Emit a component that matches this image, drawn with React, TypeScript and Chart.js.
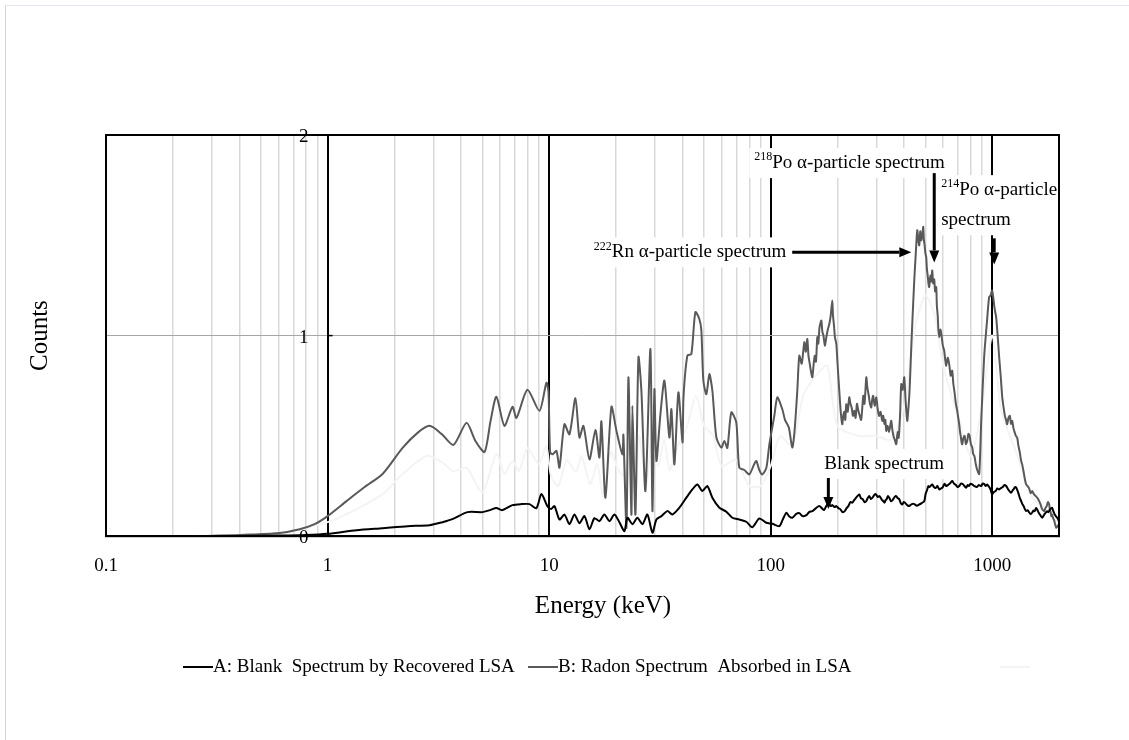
import React, { useEffect, useRef } from 'react';
import { Chart, registerables } from 'chart.js';

Chart.register(...registerables);

const SERIF = "'Liberation Serif', 'Times New Roman', Times, serif";

// ---- data: [energy keV, counts] ----
const blankSeries: number[][] = [
  [0.25, 0], [0.4, 0.001], [0.6, 0.003], [0.8, 0.006], [1.0, 0.012], [1.35, 0.03], [1.77, 0.04], [2.3, 0.05],
  [2.885, 0.055], [3.3, 0.07], [3.66, 0.085], [4.28, 0.12], [5.0, 0.12], [5.4, 0.13], [5.78, 0.14], [6.15, 0.13],
  [6.83, 0.155], [7.5, 0.16], [8.15, 0.16], [8.76, 0.14], [9.23, 0.21], [9.82, 0.15], [10.2, 0.135], [10.57, 0.15],
  [11.13, 0.083], [11.72, 0.108], [12.35, 0.06], [13.0, 0.108], [13.7, 0.065], [14.43, 0.1], [15.2, 0.035],
  [16.01, 0.09], [16.86, 0.075], [17.75, 0.108], [18.71, 0.075], [19.7, 0.108], [20.75, 0.07], [21.86, 0.025],
  [22.55, 0.092], [23.75, 0.06], [25.02, 0.092], [26.36, 0.06], [27.76, 0.108], [29.25, 0.017], [30.48, 0.083],
  [32.1, 0.1], [34.18, 0.125], [35.98, 0.108], [38.71, 0.142], [41.62, 0.192], [44.3, 0.233], [46.66, 0.258],
  [49.13, 0.225], [51.76, 0.25], [54.53, 0.192], [58.65, 0.142], [63.05, 0.122], [67.1, 0.092], [72.1, 0.083],
  [77.6, 0.072], [82.6, 0.045], [88.8, 0.088], [95.5, 0.067], [101.7, 0.062], [109.3, 0.05], [113, 0.08],
  [117.6, 0.117], [121, 0.1], [125.1, 0.092], [130, 0.11], [134.6, 0.115], [139, 0.1], [144.8, 0.105],
  [149, 0.12], [154.1, 0.125], [160, 0.14], [165.6, 0.15], [170, 0.14], [174, 0.13], [178, 0.15], [182.7, 0.167],
  [186, 0.15], [190, 0.155], [194, 0.145], [197.7, 0.15], [202, 0.14], [206, 0.135], [211, 0.12], [215.9, 0.125],
  [220, 0.14], [224, 0.15], [229, 0.17], [233.4, 0.167], [238, 0.18], [242, 0.19], [246, 0.2], [251.1, 0.208],
  [255, 0.19], [260, 0.185], [265, 0.17], [270, 0.175], [274, 0.19], [279, 0.2], [283, 0.185], [288, 0.192],
  [293, 0.205], [298, 0.21], [304, 0.195], [309.7, 0.2], [314, 0.19], [318, 0.18], [322, 0.175], [326.2, 0.167],
  [330, 0.18], [334, 0.185], [338, 0.2], [342.8, 0.192], [349, 0.175], [355, 0.18], [362, 0.195], [368.5, 0.2],
  [374, 0.19], [380, 0.185], [386, 0.165], [392.4, 0.158], [398, 0.17], [405, 0.165], [413, 0.155], [421.7, 0.15],
  [433, 0.16], [445, 0.16], [456, 0.152], [468.1, 0.158], [480, 0.165], [493.1, 0.175], [500, 0.21],
  [508.7, 0.233], [514, 0.25], [520, 0.245], [528, 0.252], [535.8, 0.258], [545, 0.245], [555, 0.24],
  [565, 0.25], [576, 0.233], [587, 0.238], [598, 0.245], [609, 0.262], [619.4, 0.25], [630, 0.255], [640, 0.26],
  [650, 0.268], [659.2, 0.275], [672, 0.262], [685, 0.255], [697, 0.245], [709.1, 0.25], [722, 0.262],
  [735, 0.26], [749, 0.25], [762.7, 0.242], [774, 0.255], [785, 0.25], [798, 0.262], [811.8, 0.258],
  [830, 0.25], [850, 0.245], [870, 0.255], [891.3, 0.25], [905, 0.262], [920, 0.26], [933, 0.25], [947.8, 0.258],
  [961, 0.25], [975, 0.24], [987, 0.225], [998, 0.208], [1016, 0.22], [1035, 0.225], [1054, 0.238],
  [1074, 0.233], [1095, 0.24], [1115, 0.245], [1135, 0.255], [1155, 0.25], [1170, 0.24], [1185, 0.23],
  [1200, 0.222], [1217, 0.217], [1234, 0.228], [1250, 0.235], [1266, 0.245], [1282, 0.242], [1298, 0.228],
  [1315, 0.21], [1332, 0.19], [1350, 0.175], [1367, 0.16], [1385, 0.15], [1403, 0.135], [1422, 0.125],
  [1443, 0.13], [1465, 0.12], [1490, 0.11], [1513, 0.117], [1533, 0.128], [1555, 0.125], [1575, 0.14],
  [1594, 0.133], [1614, 0.12], [1635, 0.11], [1657, 0.1], [1680, 0.092], [1700, 0.1], [1720, 0.11],
  [1744, 0.118], [1768, 0.125], [1790, 0.12], [1815, 0.13], [1838, 0.138], [1862, 0.142], [1885, 0.125],
  [1910, 0.11], [1935, 0.1], [1962, 0.092], [2000, 0.075],
];

const radonSeries: number[][] = [
  [0.249, 0], [0.326, 0.003], [0.445, 0.008], [0.607, 0.016], [0.748, 0.035], [0.874, 0.06], [1.0, 0.1],
  [1.218, 0.175], [1.469, 0.245], [1.771, 0.31], [2.18, 0.44], [2.547, 0.515], [2.885, 0.55], [3.268, 0.51],
  [3.7, 0.455], [4.236, 0.565], [4.65, 0.475], [5.11, 0.42], [5.44, 0.575], [5.78, 0.695], [6.28, 0.55],
  [6.83, 0.645], [7.12, 0.59], [7.98, 0.73], [9.04, 0.625], [9.72, 0.765], [9.93, 0.72], [10.1, 0.42],
  [10.35, 0.408], [10.79, 0.425], [11.13, 0.342], [11.72, 0.558], [12.35, 0.508], [13.14, 0.688], [13.7, 0.492],
  [14.28, 0.55], [15.2, 0.383], [16.18, 0.53], [16.86, 0.392], [17.21, 0.572], [17.95, 0.192], [19.1, 0.645],
  [20.13, 0.525], [21.41, 0.408], [21.63, 0.505], [22.33, 0.042], [22.79, 0.792], [23.51, 0.108], [23.75, 0.65],
  [24.51, 0.108], [25.29, 0.892], [26.08, 0.725], [27.19, 0.225], [28.64, 0.933], [29.25, 0.125], [29.86, 0.733],
  [30.48, 0.375], [31.78, 0.608], [33.13, 0.775], [34.88, 0.492], [35.62, 0.633], [36.75, 0.358], [38.31, 0.717],
  [39.97, 0.467], [40.39, 0.692], [42.05, 0.9], [43.83, 0.908], [45.7, 1.117], [47.62, 1.083], [48.64, 1.025],
  [49.66, 0.775], [51.24, 0.708], [52.86, 0.808], [54.53, 0.725], [56.85, 0.492], [59.88, 0.442], [61.78, 0.475],
  [63.7, 0.44], [66.4, 0.617], [69.9, 0.567], [72.1, 0.342], [76.0, 0.33], [80.0, 0.308], [84.3, 0.36],
  [86.1, 0.375], [88.8, 0.33], [91.6, 0.308], [95.5, 0.34], [98.6, 0.458], [103.8, 0.6], [107.1, 0.692],
  [112.8, 0.633], [116, 0.58], [120.7, 0.542], [125.1, 0.442], [128, 0.52], [131.8, 0.725], [134.6, 0.9],
  [138, 0.86], [141.8, 0.967], [144, 0.92], [146.3, 0.983], [148, 0.9], [150, 0.86], [152, 0.82], [154.1, 0.792],
  [156, 0.85], [158, 0.9], [160, 0.87], [162.3, 0.992], [164, 0.96], [166, 1.04], [169.2, 1.075], [171, 1.02],
  [173, 1.0], [175.5, 0.95], [178.2, 0.992], [181, 1.03], [183.8, 1.058], [186.5, 1.1], [189.6, 1.175],
  [191, 1.1], [193, 1.05], [195, 0.99], [197.7, 0.958], [200.5, 0.85], [203.9, 0.725], [207, 0.62],
  [210.3, 0.558], [212.5, 0.6], [215, 0.62], [217, 0.58], [219.3, 0.658], [222.5, 0.62], [226.2, 0.692],
  [229, 0.66], [232, 0.64], [235, 0.6], [238.4, 0.625], [241.5, 0.59], [245, 0.66], [248, 0.63], [251.1, 0.608],
  [256, 0.58], [261.7, 0.7], [265, 0.66], [270, 0.792], [273, 0.74], [277, 0.7], [280.5, 0.66], [284.3, 0.642],
  [287, 0.68], [290, 0.7], [294.5, 0.65], [299.5, 0.692], [303.5, 0.64], [308, 0.6], [313, 0.62], [318.7, 0.575],
  [322, 0.6], [326, 0.56], [329, 0.58], [332.2, 0.525], [337, 0.55], [342, 0.52], [346, 0.55], [349.9, 0.575],
  [354, 0.53], [358, 0.5], [363, 0.48], [368.5, 0.458], [372, 0.5], [375, 0.52], [378, 0.49], [380.3, 0.525],
  [384, 0.62], [388.2, 0.758], [394, 0.73], [400.5, 0.792], [406, 0.68], [413.2, 0.575], [417, 0.62], [422, 0.7],
  [426, 0.8], [430.8, 0.942], [437, 1.1], [444.4, 1.275], [451, 1.4], [458.4, 1.525], [463, 1.48], [468, 1.45],
  [473, 1.52], [477.9, 1.475], [483, 1.5], [487.9, 1.542], [491, 1.48], [495, 1.45], [499, 1.41], [503.1, 1.392],
  [507, 1.33], [511, 1.3], [515, 1.26], [519, 1.242], [523, 1.28], [527, 1.3], [531, 1.27], [535.8, 1.325],
  [541, 1.26], [547, 1.28], [552, 1.22], [558.4, 1.242], [562, 1.15], [567, 1.1], [571, 1.03], [576, 0.992],
  [583, 1.03], [590, 1.0], [598, 0.95], [606.7, 0.925], [613, 0.88], [619.4, 0.85], [629, 0.89], [639, 0.858],
  [649, 0.8], [659.2, 0.825], [667, 0.76], [675, 0.72], [685, 0.66], [694.6, 0.625], [702, 0.59], [709.1, 0.558],
  [715, 0.52], [720, 0.5], [726, 0.47], [731.5, 0.458], [740, 0.49], [750, 0.5], [760, 0.46], [770.4, 0.475],
  [780, 0.51], [790, 0.5], [800, 0.46], [811.8, 0.442], [820, 0.41], [830, 0.4], [842, 0.36], [855, 0.33],
  [873, 0.31], [891.3, 0.575], [918.7, 0.892], [947.8, 1.08], [967.5, 1.192], [982, 1.2], [998, 1.225],
  [1010, 1.19], [1020, 1.15], [1030, 1.12], [1041, 1.092], [1057, 1.0], [1074, 0.892], [1091, 0.8],
  [1109, 0.692], [1125, 0.64], [1140, 0.6], [1153, 0.58], [1167, 0.558], [1183, 0.59], [1200, 0.6],
  [1215, 0.56], [1230, 0.575], [1245, 0.54], [1260, 0.52], [1278, 0.5], [1295, 0.492], [1312, 0.45],
  [1330, 0.42], [1347, 0.38], [1364, 0.358], [1380, 0.33], [1395, 0.3], [1408, 0.275], [1422, 0.258],
  [1443, 0.25], [1465, 0.24], [1490, 0.215], [1513, 0.225], [1540, 0.21], [1570, 0.2], [1600, 0.19],
  [1628, 0.175], [1650, 0.16], [1670, 0.14], [1692, 0.13], [1714, 0.125], [1737, 0.14], [1760, 0.15],
  [1783, 0.17], [1806, 0.158], [1820, 0.13], [1835, 0.12], [1848, 0.1], [1862, 0.108], [1881, 0.09],
  [1900, 0.08], [1920, 0.06], [1942, 0.042], [1970, 0.05], [2000, 0.06],
];

const shadowSeries: number[][] = [
  [0.3, 0], [0.6, 0.01], [1.0, 0.07], [1.22, 0.11], [1.77, 0.21], [2.18, 0.31], [2.8, 0.4], [3.27, 0.37],
  [3.7, 0.325], [4.24, 0.34], [5.0, 0.22], [5.78, 0.41], [6.28, 0.31], [6.83, 0.375], [7.3, 0.325], [8.0, 0.44],
  [9.0, 0.36], [9.7, 0.45], [10.2, 0.3], [11.0, 0.25], [12.0, 0.38], [13.2, 0.32], [14.0, 0.4], [15.3, 0.26],
  [16.5, 0.36], [17.5, 0.2], [19.0, 0.42], [20.5, 0.33], [22.0, 0.3], [23.0, 0.45], [24.5, 0.2], [25.5, 0.5],
  [27.5, 0.25], [29.0, 0.5], [31.0, 0.35], [33.0, 0.48], [35.0, 0.33], [38.0, 0.45], [42.0, 0.55], [46.0, 0.7],
  [50.0, 0.55], [55.0, 0.5], [60.0, 0.35], [70.0, 0.38], [80.0, 0.25], [90.0, 0.25], [100, 0.35], [110, 0.5],
  [125, 0.45], [140, 0.7], [160, 0.8], [180, 0.85], [200, 0.55], [250, 0.5], [300, 0.5], [350, 0.48],
  [400, 0.65], [450, 1.05], [500, 1.2], [550, 1.1], [600, 0.85], [700, 0.6], [800, 0.4], [900, 0.65],
  [1000, 1.0], [1100, 0.62], [1300, 0.4], [1500, 0.2], [1800, 0.12], [2000, 0.05],
];

const seriesLabels = ['A: Blank  Spectrum by Recovered LSA', 'B: Radon Spectrum  Absorbed in LSA', ''];
const seriesColors = ['#000000', '#595959', '#f4f4f4'];

const X_MIN = 0.1;
const X_MAX = 2000;
const majorTicks = [0.1, 1, 10, 100, 1000];
const minorSteps = [2, 3, 4, 5, 6, 7, 8, 9];
const yTicks = [0, 1, 2];
const yAxisAt = 1;

// annotations, in data coordinates (energy keV, counts)
const notes = [
  { lines: [['222', 'Rn α-particle spectrum']], energy: 117.6, counts: [1.415], align: 'right' },
  { lines: [['218', 'Po α-particle spectrum']], energy: 84.3, counts: [1.86], align: 'left' },
  { lines: [['214', 'Po α-particle'], ['', 'spectrum']], energy: 588, counts: [1.725, 1.575], align: 'left' },
  { lines: [['', 'Blank spectrum']], energy: 174.5, counts: [0.36], align: 'left' },
];
const arrows = [
  { from: [125, 1.415], to: [431, 1.415] },
  { from: [547, 1.81], to: [547, 1.365] },
  { from: [1020, 1.485], to: [1020, 1.355] },
  { from: [182, 0.29], to: [182, 0.135] },
];

const isMajor = (v: number) => {
  const l = Math.log10(v);
  return Math.abs(l - Math.round(l)) < 1e-6;
};

const xGridValues: number[] = [];
majorTicks.forEach((d) => {
  xGridValues.push(d);
  minorSteps.forEach((m) => {
    const v = parseFloat((d * m).toPrecision(6));
    if (v <= X_MAX) xGridValues.push(v);
  });
});

const toPoints = (s: number[][]) => s.map(([x, y]) => ({ x, y }));

const overlayPlugin = {
  id: 'overlay',
  afterDraw(chart: any) {
    const { ctx, chartArea: a, scales } = chart;
    const xs = scales.x;
    const ys = scales.y;
    ctx.save();
    const mainFont = `19px ${SERIF}`;
    const supFont = `12px ${SERIF}`;

    // annotation labels with white boxes
    notes.forEach((n) => {
      const px = xs.getPixelForValue(n.energy);
      const rows = n.lines.map(([sup, txt], i) => {
        ctx.font = supFont;
        const sw = sup ? ctx.measureText(sup).width : 0;
        ctx.font = mainFont;
        const tw = ctx.measureText(txt).width;
        const w = sw + tw;
        const left = n.align === 'right' ? px - w : px;
        return { sup, txt, sw, w, left, y: ys.getPixelForValue(n.counts[i]) };
      });
      const l = Math.min(...rows.map((r) => r.left)) - 5;
      const r = Math.max(...rows.map((r) => r.left + r.w)) + 5;
      const t = rows[0].y - 15;
      const b = rows[rows.length - 1].y + 15;
      ctx.fillStyle = '#ffffff';
      ctx.fillRect(l, t, r - l, b - t);
      ctx.fillStyle = '#000000';
      ctx.textBaseline = 'middle';
      ctx.textAlign = 'left';
      rows.forEach((row) => {
        if (row.sup) {
          ctx.font = supFont;
          ctx.fillText(row.sup, row.left, row.y - 6);
        }
        ctx.font = mainFont;
        ctx.fillText(row.txt, row.left + row.sw, row.y);
      });
    });

    // arrows
    arrows.forEach((ar) => {
      const x1 = xs.getPixelForValue(ar.from[0]);
      const y1 = ys.getPixelForValue(ar.from[1]);
      const x2 = xs.getPixelForValue(ar.to[0]);
      const y2 = ys.getPixelForValue(ar.to[1]);
      const ang = Math.atan2(y2 - y1, x2 - x1);
      const head = 12;
      const hw = 5;
      const bx = x2 - head * Math.cos(ang);
      const by = y2 - head * Math.sin(ang);
      ctx.strokeStyle = '#000';
      ctx.lineWidth = 3;
      ctx.beginPath();
      ctx.moveTo(x1, y1);
      ctx.lineTo(bx, by);
      ctx.stroke();
      ctx.fillStyle = '#000';
      ctx.beginPath();
      ctx.moveTo(x2, y2);
      ctx.lineTo(bx + hw * Math.sin(ang), by - hw * Math.cos(ang));
      ctx.lineTo(bx - hw * Math.sin(ang), by + hw * Math.cos(ang));
      ctx.closePath();
      ctx.fill();
    });

    // plot frame
    ctx.strokeStyle = '#000';
    ctx.lineWidth = 2;
    ctx.strokeRect(a.left, a.top, a.right - a.left, a.bottom - a.top);

    // y tick labels and short tick marks beside the axis that crosses at x = 1
    const axX = xs.getPixelForValue(yAxisAt);
    ctx.fillStyle = '#000';
    ctx.font = mainFont;
    ctx.textAlign = 'right';
    ctx.textBaseline = 'middle';
    yTicks.forEach((v) => {
      const py = ys.getPixelForValue(v);
      ctx.fillText(String(v), axX - 19, py + 2);
      ctx.beginPath();
      ctx.lineWidth = 1.5;
      ctx.moveTo(axX, py);
      ctx.lineTo(axX + 5, py);
      ctx.stroke();
    });

    // axis titles
    ctx.font = `25px ${SERIF}`;
    ctx.textAlign = 'center';
    ctx.textBaseline = 'middle';
    ctx.fillText('Energy (keV)', 603, 606);
    ctx.save();
    ctx.translate(40, (a.top + a.bottom) / 2);
    ctx.rotate(-Math.PI / 2);
    ctx.fillText('Counts', 0, 0);
    ctx.restore();

    // legend
    const legendY = 667;
    const legendX = [183, 528, 1000];
    ctx.font = mainFont;
    ctx.textAlign = 'left';
    chart.data.datasets.forEach((ds: any, i: number) => {
      ctx.strokeStyle = ds.borderColor;
      ctx.lineWidth = 2;
      ctx.beginPath();
      ctx.moveTo(legendX[i], legendY);
      ctx.lineTo(legendX[i] + 30, legendY);
      ctx.stroke();
      if (ds.label) {
        ctx.fillStyle = '#000';
        ctx.fillText(ds.label, legendX[i] + 30, legendY);
      }
    });
    ctx.restore();
  },
};

export default function App() {
  const canvasRef = useRef<HTMLCanvasElement | null>(null);

  useEffect(() => {
    if (!canvasRef.current) return;
    const series = [blankSeries, radonSeries, shadowSeries];
    const widths = [2, 2, 2];
    const chart = new Chart(canvasRef.current, {
      type: 'line',
      data: {
        datasets: series.map((s, i) => ({
          label: seriesLabels[i],
          data: toPoints(s),
          borderColor: seriesColors[i],
          backgroundColor: seriesColors[i],
          borderWidth: widths[i],
          pointRadius: 0,
          tension: 0.25,
          fill: false,
        })),
      },
      options: {
        animation: false,
        responsive: false,
        maintainAspectRatio: false,
        events: [],
        layout: { padding: { top: 135, left: 106, right: 70, bottom: 145 } },
        plugins: { legend: { display: false }, tooltip: { enabled: false } },
        scales: {
          x: {
            type: 'logarithmic',
            min: X_MIN,
            max: X_MAX,
            afterBuildTicks: (scale: any) => {
              scale.ticks = xGridValues.map((v) => ({ value: v, major: isMajor(v) }));
            },
            ticks: {
              autoSkip: false,
              maxRotation: 0,
              padding: 18,
              color: '#000',
              font: { family: SERIF, size: 19 },
              callback: (v: any) => (isMajor(Number(v)) ? String(Number(v)) : ''),
            },
            grid: {
              drawTicks: false,
              color: (c: any) => (c.tick && isMajor(c.tick.value) ? '#000000' : '#d9d9d9'),
              lineWidth: (c: any) => (c.tick && isMajor(c.tick.value) ? 2 : 1.5),
            },
            border: { display: true, color: '#000', width: 2 },
          },
          y: {
            type: 'linear',
            min: 0,
            max: 2,
            position: { x: yAxisAt } as any,
            afterBuildTicks: (scale: any) => {
              scale.ticks = yTicks.map((v) => ({ value: v }));
            },
            ticks: { display: false },
            grid: {
              drawTicks: false,
              color: (c: any) => (c.tick && c.tick.value === 1 ? '#a6a6a6' : 'rgba(0,0,0,0)'),
              lineWidth: 1,
            },
            border: { display: true, color: '#000', width: 2 },
          },
        },
      },
      plugins: [overlayPlugin],
    } as any);
    return () => chart.destroy();
  }, []);

  return (
    <div style={{ position: 'absolute', left: 0, top: 0, width: 1129, height: 740, overflow: 'hidden', background: '#fff' }}>
      <div
        style={{
          position: 'absolute',
          left: 5,
          top: 5,
          width: 1200,
          height: 800,
          borderLeft: '1px solid #c9d2ee',
          borderTop: '1px solid #e3e8f4',
        }}
      />
      <canvas ref={canvasRef} width={1129} height={740} style={{ position: 'absolute', left: 0, top: 0, width: 1129, height: 740 }} />
    </div>
  );
}
